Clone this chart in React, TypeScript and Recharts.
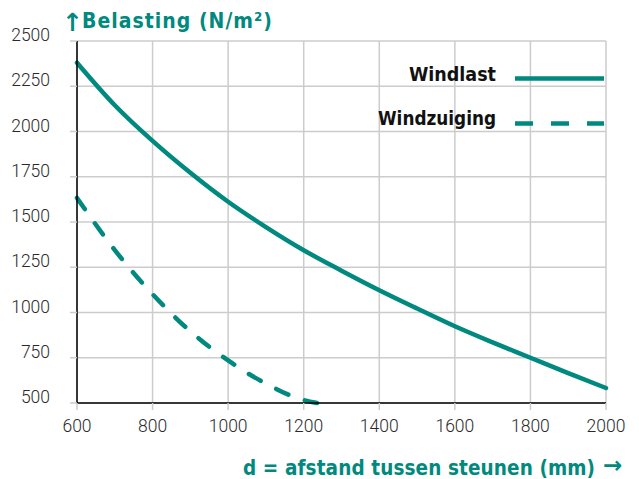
import React from "react";
import { LineChart, Line, XAxis, YAxis, CartesianGrid } from "recharts";

const xTicks = [600, 800, 1000, 1200, 1400, 1600, 1800, 2000];
const yTicks = [500, 750, 1000, 1250, 1500, 1750, 2000, 2250, 2500];

const windlastX = [600, 700, 800, 900, 1000, 1100, 1200, 1300, 1400, 1500, 1600, 1700, 1800, 1900, 2000];
const windlastY = [2380, 2145, 1948, 1772, 1612, 1472, 1344, 1231, 1123, 1022, 924, 835, 750, 665, 583];

const windzuigingX = [600, 700, 800, 900, 1000, 1100, 1200, 1235];
const windzuigingY = [1633, 1345, 1101, 896, 735, 607, 516, 500];

const windlastData = windlastX.map((x, i) => ({ x, y: windlastY[i] }));
const windzuigingData = windzuigingX.map((x, i) => ({ x, y: windzuigingY[i] }));

const TEAL = "#00897e";
const TICK_FONT = "Roboto, 'Noto Sans', sans-serif";
const BOLD_FONT = "'DejaVu Sans Condensed', 'DejaVu Sans', sans-serif";
const ARROW_FONT = "'DejaVu Sans', sans-serif";

export default function App() {
  return (
    <div style={{ position: "absolute", left: 0, top: 0, width: 639, height: 479, background: "#fff" }}>
      <LineChart width={639} height={479} margin={{ top: 41, right: 33, left: 0, bottom: 0 }}>
        <CartesianGrid stroke="#cccccc" strokeWidth={1.5} />
        <XAxis
          dataKey="x"
          type="number"
          domain={[600, 2000]}
          ticks={xTicks}
          height={76}
          tickSize={7}
          tickMargin={10}
          axisLine={{ stroke: "#000", strokeWidth: 1.5 }}
          tickLine={{ stroke: "#cccccc", strokeWidth: 1.5 }}
          tick={{ fill: "#2a2a2a", fontSize: 17.5, fontWeight: 300, fontFamily: TICK_FONT }}
        />
        <YAxis
          type="number"
          domain={[500, 2500]}
          ticks={yTicks}
          width={77}
          tickSize={7}
          tickMargin={20}
          axisLine={{ stroke: "#000", strokeWidth: 1.5 }}
          tickLine={{ stroke: "#cccccc", strokeWidth: 1.5 }}
          tick={{ fill: "#2a2a2a", fontSize: 17.5, fontWeight: 300, fontFamily: TICK_FONT, dy: -6 }}
        />
        <Line
          data={windlastData}
          dataKey="y"
          type="monotone"
          stroke={TEAL}
          strokeWidth={4.5}
          strokeLinecap="round"
          dot={false}
          isAnimationActive={false}
        />
        <Line
          data={windzuigingData}
          dataKey="y"
          type="monotone"
          stroke={TEAL}
          strokeWidth={4.5}
          strokeDasharray="13.5 17.5"
          strokeLinecap="round"
          dot={false}
          isAnimationActive={false}
        />
      </LineChart>
      <svg
        width={639}
        height={479}
        style={{ position: "absolute", left: 0, top: 0, pointerEvents: "none" }}
      >
        <text x={62} y={31} fill={TEAL} fontSize={25} fontWeight="bold" fontFamily={ARROW_FONT}>
          ↑
        </text>
        <text x={82} y={28} fill={TEAL} fontSize={21} fontWeight="bold" fontFamily={BOLD_FONT} textLength={190} lengthAdjust="spacing">
          Belasting (N/m²)
        </text>
        <text x={496} y={81} textAnchor="end" fill="#111" fontSize={19.5} fontWeight="bold" fontFamily={BOLD_FONT}>
          Windlast
        </text>
        <line x1={515} y1={78.5} x2={604} y2={78.5} stroke={TEAL} strokeWidth={4.5} />
        <text x={378} y={125} fill="#111" fontSize={19.5} fontWeight="bold" fontFamily={BOLD_FONT} textLength={118} lengthAdjust="spacingAndGlyphs">
          Windzuiging
        </text>
        <line x1={515} y1={123.5} x2={604} y2={123.5} stroke={TEAL} strokeWidth={4.5} strokeDasharray="18 18" />
        <text x={243} y={475} fill={TEAL} fontSize={20.5} fontWeight="bold" fontFamily={BOLD_FONT} textLength={352} lengthAdjust="spacing">
          d = afstand tussen steunen (mm)
        </text>
        <text x={603} y={473} fill={TEAL} fontSize={23} fontWeight="bold" fontFamily={ARROW_FONT}>
          →
        </text>
      </svg>
    </div>
  );
}
